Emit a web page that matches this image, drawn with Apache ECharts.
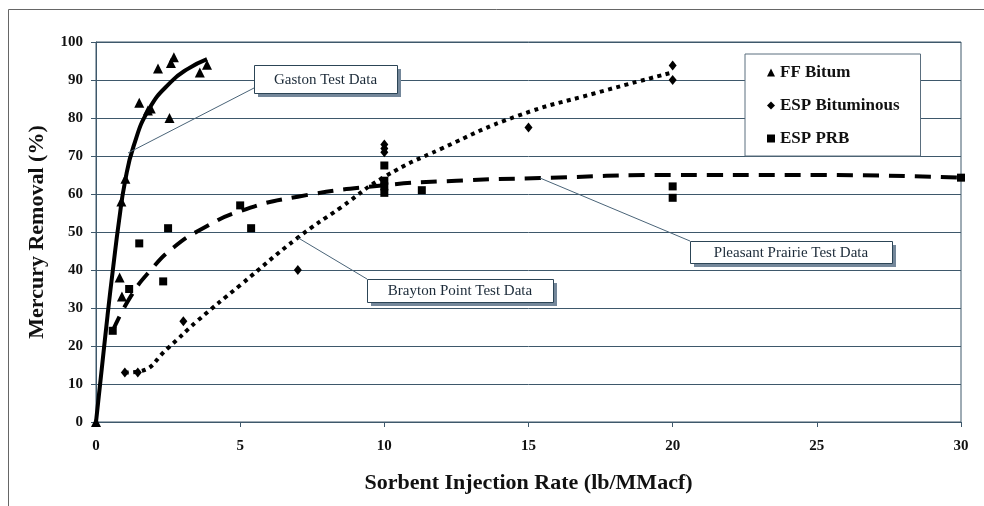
<!DOCTYPE html>
<html>
<head>
<meta charset="utf-8">
<script src="https://cdn.jsdelivr.net/npm/echarts@6/dist/echarts.min.js"></script>
<style>
html,body{margin:0;padding:0;background:#fff;}
#chart{width:984px;height:506px;}
</style>
</head>
<body>
<div id="chart"></div>
<script>
// ---- data ----
var xTicks = [0, 5, 10, 15, 20, 25, 30];
var yTicks = [0, 10, 20, 30, 40, 50, 60, 70, 80, 90, 100];

var ffBitumX = [0, 0.82, 0.88, 0.9, 1.02, 1.5, 1.8, 1.9, 2.15, 2.55, 2.6, 2.7, 3.6, 3.85];
var ffBitumY = [0, 38, 58, 33, 64, 84, 82, 82.5, 93, 80, 94.5, 96, 92, 94];

var espBitX = [1.0, 1.45, 3.03, 7.0, 10, 10, 10, 15.0, 20, 20];
var espBitY = [13, 13, 26.5, 40, 73, 72, 71, 77.5, 93.8, 90];

var espPrbX = [0.58, 1.15, 1.5, 2.33, 2.5, 5.0, 5.38, 10, 10, 10, 10, 11.3, 20, 20, 30];
var espPrbY = [24, 35, 47, 37, 51, 57, 51, 67.5, 63.5, 62, 60.3, 61, 62, 59, 64.3];

// trend curves
var gastonX = [0, 0.2, 0.4, 0.6, 0.8, 1.0, 1.3, 1.85, 2.6, 3.2, 3.85];
var gastonY = [0, 14, 28, 41, 53, 63, 72.5, 82.5, 89.5, 93, 95.5];

var braytonX = [1.0, 1.5, 2.5, 3.5, 5, 7, 8.5, 10, 12, 14.6, 17.3, 20];
var braytonY = [13, 13.3, 19.5, 26.5, 36, 48.5, 56.5, 64.5, 72, 80.5, 86.5, 92];

var prairieX = [0.58, 1.2, 1.9, 2.7, 3.6, 5, 7, 10, 12.5, 15.4, 20, 25, 30];
var prairieY = [24, 33, 40, 46, 50.5, 55.5, 59.3, 62.3, 63.5, 64.2, 65, 65, 64.3];

var seriesNames = ['FF Bitum', 'ESP Bituminous', 'ESP PRB'];
var calloutLabels = ['Gaston Test Data', 'Brayton Point Test Data', 'Pleasant Prairie Test Data'];
var calloutAnchorX = [1.11, 7.0, 15.4];
var calloutAnchorY = [70.8, 48.5, 64.2];

function zip(xs, ys) { return xs.map(function (x, i) { return [x, ys[i]]; }); }

var FONT = "'Liberation Serif', 'Times New Roman', serif";
var GRIDC = '#3e586b';

var chart = echarts.init(document.getElementById('chart'), null, {renderer: 'canvas'});

var option = {
  backgroundColor: '#fff',
  animation: false,
  grid: {left: 96, top: 42, right: 23, bottom: 84, show: true, borderColor: GRIDC, borderWidth: 1},
  xAxis: {
    type: 'value', min: 0, max: 30, interval: 5,
    name: 'Sorbent Injection Rate (lb/MMacf)', nameLocation: 'middle', nameGap: 50,
    nameTextStyle: {fontFamily: FONT, fontWeight: 'bold', fontSize: 22, color: '#111'},
    axisLine: {show: true, lineStyle: {color: GRIDC, width: 1}},
    axisTick: {show: true, length: 5, lineStyle: {color: GRIDC}},
    axisLabel: {margin: 17, fontFamily: FONT, fontWeight: 'bold', fontSize: 15, color: '#111',
      formatter: function (v) { return xTicks.indexOf(v) >= 0 ? String(v) : ''; }},
    splitLine: {show: false}
  },
  yAxis: {
    type: 'value', min: 0, max: 100, interval: 10,
    name: 'Mercury Removal (%)', nameLocation: 'middle', nameGap: 48, nameRotate: 90,
    nameTextStyle: {fontFamily: FONT, fontWeight: 'bold', fontSize: 22, color: '#111'},
    axisLine: {show: true, lineStyle: {color: GRIDC, width: 1}},
    axisTick: {show: true, length: 5, lineStyle: {color: GRIDC}},
    axisLabel: {margin: 13, fontFamily: FONT, fontWeight: 'bold', fontSize: 15, color: '#111',
      formatter: function (v) { return yTicks.indexOf(v) >= 0 ? String(v) : ''; }},
    splitLine: {show: true, lineStyle: {color: GRIDC, width: 1}}
  },
  legend: {
    data: seriesNames, orient: 'vertical', left: 745, top: 54,
    padding: [10, 21, 9, 22], itemWidth: 8, itemHeight: 8, itemGap: 16,
    backgroundColor: '#fff', borderColor: '#5a6e7e', borderWidth: 1,
    textStyle: {fontFamily: FONT, fontWeight: 'bold', fontSize: 17, color: '#111'}
  },
  series: [
    {name: 'Gaston trend', type: 'line', data: zip(gastonX, gastonY), smooth: 0.5,
      showSymbol: false, lineStyle: {color: '#000', width: 4}, z: 3, silent: true},
    {name: 'Pleasant Prairie trend', type: 'line', data: zip(prairieX, prairieY), smooth: 0.5,
      showSymbol: false, lineStyle: {color: '#000', width: 4, type: [16, 10], cap: 'butt'}, z: 3, silent: true},
    {name: 'Brayton trend', type: 'line', data: zip(braytonX, braytonY), smooth: 0.5,
      showSymbol: false, lineStyle: {color: '#000', width: 4, type: [4, 4.5], cap: 'butt'}, z: 3, silent: true},
    {name: seriesNames[0], type: 'scatter', data: zip(ffBitumX, ffBitumY), symbol: 'triangle', symbolSize: 10,
      itemStyle: {color: '#000', opacity: 1}, z: 5},
    {name: seriesNames[1], type: 'scatter', data: zip(espBitX, espBitY), symbol: 'diamond', symbolSize: [8, 10],
      itemStyle: {color: '#000', opacity: 1}, z: 5},
    {name: seriesNames[2], type: 'scatter', data: zip(espPrbX, espPrbY), symbol: 'rect', symbolSize: 8,
      itemStyle: {color: '#000', opacity: 1}, z: 5}
  ]
};
chart.setOption(option);

// callout boxes (layout positions in pixels), leaders anchored to data points
var boxes = [
  {x: 254, y: 65, w: 143, h: 28, lx: 254, ly: 88},
  {x: 367, y: 279, w: 186, h: 23, lx: 367, ly: 279},
  {x: 690, y: 241, w: 202, h: 22, lx: 690, ly: 241}
];
var gfx = [{
  type: 'rect', shape: {x: 8.5, y: 9.5, width: 1000, height: 600}, silent: true,
  style: {fill: null, stroke: '#666', lineWidth: 1}, z: 1
}];
boxes.forEach(function (b, i) {
  var p = chart.convertToPixel({gridIndex: 0}, [calloutAnchorX[i], calloutAnchorY[i]]);
  gfx.push({type: 'line', shape: {x1: p[0], y1: p[1], x2: b.lx, y2: b.ly},
    style: {stroke: '#4a6478', lineWidth: 1}, z: 20, silent: true});
  gfx.push({type: 'rect', shape: {x: b.x + 4, y: b.y + 4, width: b.w, height: b.h},
    style: {fill: '#74879a'}, z: 21, silent: true});
  gfx.push({type: 'rect', shape: {x: b.x + 0.5, y: b.y + 0.5, width: b.w, height: b.h},
    style: {fill: '#fff', stroke: '#2c4556', lineWidth: 1}, z: 22, silent: true});
  gfx.push({type: 'text', x: b.x + b.w / 2, y: b.y + b.h / 2 + 1, z: 23, silent: true,
    style: {text: calloutLabels[i], font: '15px ' + FONT, fill: '#1b2a38', align: 'center', verticalAlign: 'middle'}});
});
chart.setOption({graphic: gfx});
</script>
</body>
</html>
